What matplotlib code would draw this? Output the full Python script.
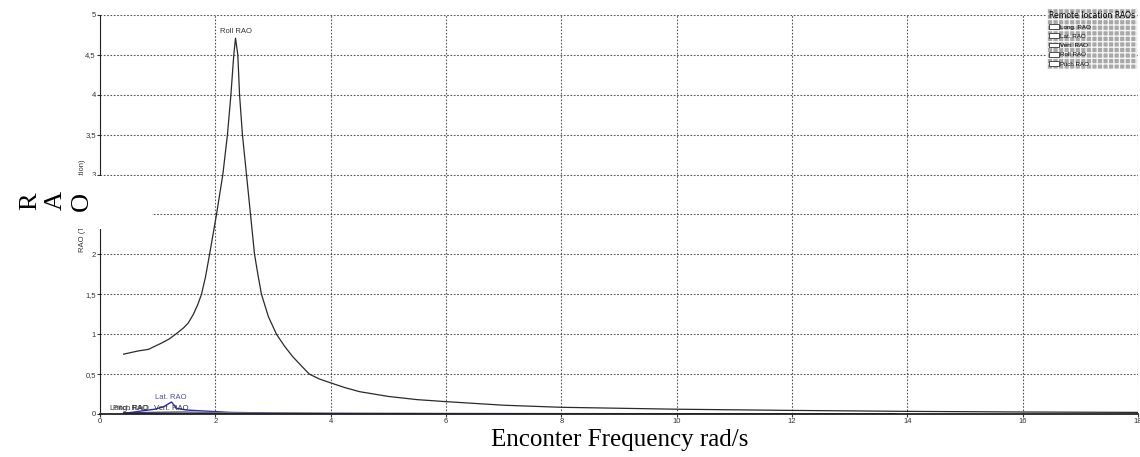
import matplotlib
matplotlib.use("Agg")
import matplotlib.pyplot as plt
from matplotlib.patches import Patch, Rectangle
from matplotlib.ticker import MultipleLocator, FuncFormatter

# --- data ---
roll_freq = [0.41, 0.66, 0.84, 1.07, 1.20, 1.33, 1.45, 1.53, 1.62, 1.70, 1.76, 1.83, 1.90,
             2.02, 2.13, 2.21, 2.27, 2.32, 2.35, 2.39, 2.42, 2.47, 2.54, 2.61, 2.68, 2.74,
             2.80, 2.92, 3.06, 3.20, 3.34, 3.51, 3.63, 3.80, 4.0, 4.25, 4.5, 5.0, 5.5,
             6.0, 7.0, 8.0, 10.0, 12.0, 14.0, 16.0, 18.0]
roll_rao = [0.75, 0.79, 0.81, 0.89, 0.94, 1.01, 1.08, 1.14, 1.25, 1.38, 1.5, 1.72, 2.0,
            2.5, 3.0, 3.5, 4.0, 4.5, 4.71, 4.5, 4.0, 3.5, 3.0, 2.5, 2.0, 1.74,
            1.5, 1.22, 1.0, 0.85, 0.72, 0.59, 0.5, 0.44, 0.39, 0.33, 0.28, 0.22, 0.18,
            0.155, 0.11, 0.084, 0.06, 0.045, 0.033, 0.025, 0.02]

lat_freq = [0.41, 0.55, 0.74, 0.95, 1.1, 1.24, 1.33, 1.5, 1.73, 2.0, 2.25, 3.0, 4.0, 6.0,
            8.0, 10.0, 12.0, 13.8]
lat_rao = [0.01, 0.02, 0.04, 0.06, 0.09, 0.15, 0.07, 0.05, 0.04, 0.03, 0.02, 0.012, 0.008,
           0.005, 0.004, 0.003, 0.003, 0.002]

low_freq = [0.41, 0.53, 0.8, 1.1, 1.4, 1.8, 2.2, 3.0, 4.0, 6.0, 8.0, 10.0, 12.0, 13.8]
long_rao = [0.01, 0.012, 0.01, 0.008, 0.007, 0.006, 0.005, 0.004, 0.003, 0.003, 0.002, 0.002,
            0.002, 0.002]
vert_rao = [0.01, 0.015, 0.02, 0.025, 0.03, 0.02, 0.015, 0.01, 0.008, 0.006, 0.005, 0.004,
            0.004, 0.003]
pitch_rao = [0.012, 0.015, 0.012, 0.01, 0.008, 0.007, 0.006, 0.005, 0.004, 0.003, 0.003,
             0.002, 0.002, 0.002]

legend_names = ["Long. RAO", "Lat. RAO", "Vert. RAO", "Roll RAO", "Pitch RAO"]

fig = plt.figure(figsize=(11.4, 4.57), dpi=100)
ax = fig.add_axes([100 / 1140, 1 - 414 / 457, 1038 / 1140, 399 / 457])

ax.plot(low_freq, long_rao, color="black", lw=1)
ax.plot(lat_freq, lat_rao, color="#2a2ab0", lw=1)
ax.plot(low_freq, vert_rao, color="#8a8a8a", lw=1)
ax.plot(roll_freq, roll_rao, color="#2a2a2a", lw=0.9)
ax.plot(low_freq, pitch_rao, color="#1c1c70", lw=1)

# series labels at their peaks
lab = dict(fontsize=5.5, ha="center", va="bottom", family="Liberation Sans")
ax.text(2.35, 4.75, "Roll RAO", color="#333333", **lab)
ax.text(1.23, 0.16, "Lat. RAO", color="#4a4aa8", **lab)
ax.text(1.23, 0.02, "Vert. RAO", color="#333333", **lab)
ax.text(0.53, 0.02, "Pitch RAO", color="#333333", **lab)
ax.text(0.5, 0.02, "Long. RAO", color="#333333", **lab)

ax.set_xlim(0, 18)
ax.set_ylim(0, 5)
ax.xaxis.set_major_locator(MultipleLocator(2))
ax.yaxis.set_major_locator(MultipleLocator(0.5))
fmt = FuncFormatter(lambda v, p: f"{v:g}".replace(".", ","))
ax.xaxis.set_major_formatter(fmt)
ax.yaxis.set_major_formatter(fmt)
ax.tick_params(labelsize=5.5, length=2, pad=1, colors="#333333")
for t in ax.get_xticklabels() + ax.get_yticklabels():
    t.set_family("Liberation Sans")
ax.grid(True, color="#555555", lw=0.8, linestyle=(0, (1.5, 1.5)))
ax.spines["top"].set_visible(False)
ax.spines["right"].set_visible(False)
ax.spines["left"].set_color("#222222")
ax.spines["bottom"].set_color("#222222")
ax.spines["bottom"].set_linewidth(1.3)

# small original y label (partly covered)
fig.text(82 / 1140, 1 - 206 / 457, "RAO (Translation/Rotation)", rotation=90,
         fontsize=5.5, color="#333333", ha="center", va="center", family="Liberation Sans")

# legend box
handles = [Patch(facecolor="white", edgecolor="#333333", lw=0.6) for _ in legend_names]
leg = fig.legend(handles, legend_names, loc="upper right",
                 bbox_to_anchor=(1137 / 1140, 1 - 9 / 457), borderaxespad=0,
                 title="Remote location RAOs", title_fontsize=5.6,
                 handlelength=1.6, handleheight=0.8, handletextpad=0.2,
                 labelspacing=0.6, borderpad=0.35, fancybox=False, framealpha=1,
                 alignment="left", prop={"family": "Liberation Sans", "size": 4.5})
frame = leg.get_frame()
frame.set_facecolor("#a8a8a8")
frame.set_edgecolor("#f4f4f4")
frame.set_hatch("+++")
frame.set_linewidth(0.3)
leg.set_zorder(10)

# white patch with big serif "R A O" covering part of the axis
fig.patches.append(Rectangle((0, 1 - 229 / 457), 152 / 1140, 53 / 457,
                             transform=fig.transFigure, facecolor="white",
                             edgecolor="none", zorder=20))
fig.text(56 / 1140, 1 - 201 / 457, "R\nA\nO", rotation=90, fontsize=19,
         family="Liberation Serif", ha="center", va="center", linespacing=1.25,
         zorder=21)

fig.text(620 / 1140, 1 - 440 / 457, "Enconter Frequency rad/s", fontsize=18,
         family="Liberation Serif", ha="center", va="center")

fig.savefig("out.png", dpi=100)
